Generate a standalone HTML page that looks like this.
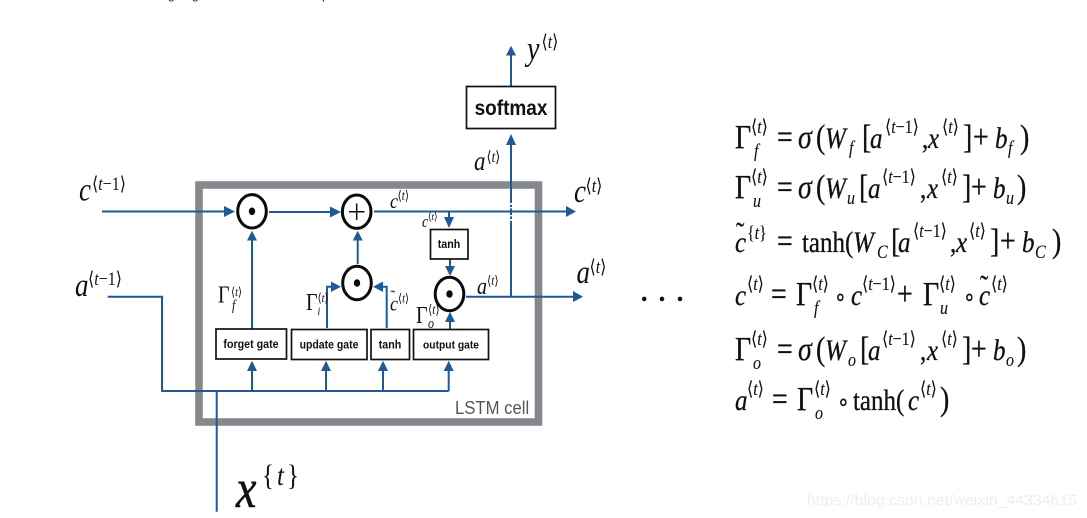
<!DOCTYPE html>
<html>
<head>
<meta charset="utf-8">
<style>
html,body{margin:0;padding:0;background:#fff;width:1087px;height:518px;overflow:hidden}
svg{display:block;filter:blur(.35px)}
text{font-family:"Liberation Serif","DejaVu Sans",serif;fill:#111;white-space:pre}
.i{font-style:italic}
.sans{font-family:"Liberation Sans",sans-serif;font-weight:bold;text-anchor:middle;font-size:10.7px;fill:#111}
.eq text{font-size:25px;stroke:#111;stroke-width:.25px}
.eq text.s{font-size:16px;stroke-width:.1px}
.eq text.b{font-size:16px;font-style:italic;stroke-width:.1px}
.eq text.k{font-size:28px}
.ln{fill:none;stroke:#1f5a96;stroke-width:2}
.hd{fill:#1f5a96}
.box{fill:#fff;stroke:#111;stroke-width:1.7}
.cir{fill:#fff;stroke:#0a0a0a;stroke-width:3}
</style>
</head>
<body>
<svg width="1087" height="518" viewBox="0 0 1087 518" xmlns="http://www.w3.org/2000/svg">
<rect width="1087" height="518" fill="#fff"/>

<text x="168" y="-1" style="font-family:'Liberation Sans',sans-serif;font-size:12px">g</text>
<text x="192" y="-1" style="font-family:'Liberation Sans',sans-serif;font-size:12px">g</text>
<text x="322" y="-1" style="font-family:'Liberation Sans',sans-serif;font-size:12px">p</text>

<!-- LSTM cell frame -->
<rect x="199" y="185" width="339.5" height="237" fill="none" stroke="#85888c" stroke-width="7.6"/>
<text transform="translate(455 414) scale(1 1.1)" style="font-family:'Liberation Sans',sans-serif;font-size:16.7px;fill:#555">LSTM cell</text>

<!-- Connectors -->
<path class="ln" d="M102 211.5H226"/>
<path class="ln" d="M269 212H332"/>
<path class="ln" d="M374 211.5H567"/>
<path class="ln" d="M449 212V218"/>
<path class="ln" d="M450 259V267"/>
<path class="ln" d="M466 296.7H575"/>
<path class="ln" d="M511 297V144"/>
<rect x="507" y="203" width="8" height="1.8" fill="#fff"/>
<rect x="507" y="207" width="8" height="1.4" fill="#fff"/>
<rect x="507" y="215" width="8" height="1.4" fill="#fff"/>
<rect x="507" y="219" width="8" height="1.8" fill="#fff"/>
<path class="ln" d="M511 86V54"/>
<path class="ln" d="M357.7 264V239"/>
<path class="ln" d="M327 328V286.7H332"/>
<path class="ln" d="M386.7 328V286.7H382"/>
<path class="ln" d="M450 329V321"/>
<path class="ln" d="M252 329V239"/>
<path class="ln" d="M107.7 296.7H162V391H448.7"/>
<path class="ln" d="M216.7 391V511.7"/>
<path class="ln" d="M252 391V369"/>
<path class="ln" d="M326 391V369"/>
<path class="ln" d="M383 391V369"/>
<path class="ln" d="M448.7 391V369"/>

<!-- Arrowheads -->
<polygon class="hd" points="235,211.5 224,206 224,217"/>
<polygon class="hd" points="341,212 330,206.5 330,217.5"/>
<polygon class="hd" points="576,211.5 566,206 566,217"/>
<polygon class="hd" points="449,228 444,217 454,217"/>
<polygon class="hd" points="450,276 445,266 455,266"/>
<polygon class="hd" points="583,296.7 573,291 573,302"/>
<polygon class="hd" points="511,134 506,145 516,145"/>
<polygon class="hd" points="511,45.7 506,55.5 516,55.5"/>
<polygon class="hd" points="357.7,230.7 352.7,240.5 362.7,240.5"/>
<polygon class="hd" points="341,286.7 331,281.5 331,292"/>
<polygon class="hd" points="373,286.7 383,281.5 383,292"/>
<polygon class="hd" points="450,311.7 445,322 455,322"/>
<polygon class="hd" points="252,230.7 247,240.5 257,240.5"/>
<polygon class="hd" points="252,360.7 247,371 257,371"/>
<polygon class="hd" points="326,360.7 321,371 331,371"/>
<polygon class="hd" points="383,360.7 378,371 388,371"/>
<polygon class="hd" points="448.7,360.7 443.7,371 453.7,371"/>

<!-- Operator nodes -->
<ellipse class="cir" cx="252" cy="211.3" rx="14.3" ry="16.7"/>
<ellipse cx="252" cy="211.3" rx="3.2" ry="3.8" fill="#0a0a0a"/>
<ellipse class="cir" cx="356.7" cy="211.7" rx="14.3" ry="16.7"/>
<path d="M349 211.7H364.5M356.7 203.5V220" stroke="#111" stroke-width="1.5" fill="none"/>
<ellipse class="cir" cx="357" cy="283" rx="14.3" ry="16.7"/>
<ellipse cx="357" cy="283" rx="3.2" ry="3.8" fill="#0a0a0a"/>
<ellipse class="cir" cx="449.5" cy="294" rx="14.3" ry="16.7"/>
<ellipse cx="449.5" cy="294" rx="3.2" ry="3.8" fill="#0a0a0a"/>

<!-- Boxes -->
<rect class="box" x="466.5" y="86.5" width="89" height="42" stroke-width="2"/>
<text class="sans" transform="translate(511 115) scale(1 1.1)" style="font-size:19px">softmax</text>
<rect class="box" x="430.5" y="229.5" width="37.5" height="29.5"/>
<text class="sans" transform="translate(449 248) scale(1 1.1)">tanh</text>
<rect class="box" x="216" y="329" width="70.5" height="30"/>
<text class="sans" transform="translate(251 348) scale(1 1.1)">forget gate</text>
<rect class="box" x="291.5" y="329.5" width="75.5" height="30"/>
<text class="sans" transform="translate(329 348.5) scale(1 1.1)" style="font-size:10.5px">update gate</text>
<rect class="box" x="371" y="329.5" width="38.5" height="30"/>
<text class="sans" transform="translate(390 348.5) scale(1 1.1)">tanh</text>
<rect class="box" x="413.5" y="329.5" width="75" height="30"/>
<text class="sans" transform="translate(451 348.5) scale(1 1.1)" style="font-size:10.3px">output gate</text>

<!-- Diagram labels -->
<text class="i" transform="translate(79 200.7) scale(1 1.2)" style="font-size:27px">c</text>
<text transform="translate(92 190) scale(1 1.2)" style="font-size:16px">⟨<tspan class="i">t</tspan>−1⟩</text>
<text class="i" transform="translate(75 296) scale(1 1.2)" style="font-size:27px">a</text>
<text transform="translate(88 285) scale(1 1.2)" style="font-size:16px">⟨<tspan class="i">t</tspan>−1⟩</text>

<text transform="translate(218 302.7) scale(1 1.2)" style="font-size:20px">Γ</text>
<text transform="translate(231 296) scale(1 1.2)" style="font-size:10.5px">⟨<tspan class="i">t</tspan>⟩</text>
<text class="i" transform="translate(232 310) scale(1 1.2)" style="font-size:12px">f</text>

<text transform="translate(306 310) scale(1 1.2)" style="font-size:20px">Γ</text>
<text transform="translate(317.500 302) scale(1 1.2)" style="font-size:10.5px">⟨<tspan class="i">t</tspan>⟩</text>
<text class="i" transform="translate(317.500 315) scale(1 1.2)" style="font-size:10px">i</text>

<text class="i" transform="translate(390 310.7) scale(1 1.2)" style="font-size:18px">c</text>
<text transform="translate(390.500 302) scale(1 1.2)" style="font-size:14px">˜</text>
<text transform="translate(398 302.700) scale(1 1.2)" style="font-size:10.5px">⟨<tspan class="i">t</tspan>⟩</text>

<text transform="translate(416 323) scale(1 1.2)" style="font-size:20px">Γ</text>
<text transform="translate(428 314) scale(1 1.2)" style="font-size:11px">⟨<tspan class="i">t</tspan>⟩</text>
<text class="i" transform="translate(428 328) scale(1 1.2)" style="font-size:12px">o</text>

<text class="i" transform="translate(390 208) scale(1 1.2)" style="font-size:18px">c</text>
<text transform="translate(397.500 200) scale(1 1.2)" style="font-size:11px">⟨<tspan class="i">t</tspan>⟩</text>
<text class="i" transform="translate(422 227) scale(1 1.2)" style="font-size:14px">c</text>
<text transform="translate(428 220) scale(1 1.2)" style="font-size:9px">⟨<tspan class="i">t</tspan>⟩</text>

<text class="i" transform="translate(477 294) scale(1 1.2)" style="font-size:20px">a</text>
<text transform="translate(487 285) scale(1 1.2)" style="font-size:11px">⟨<tspan class="i">t</tspan>⟩</text>

<text class="i" transform="translate(574 202) scale(1 1.2)" style="font-size:27px">c</text>
<text transform="translate(585.500 192) scale(1 1.2)" style="font-size:16px">⟨<tspan class="i">t</tspan>⟩</text>
<text class="i" transform="translate(576.500 283) scale(1 1.2)" style="font-size:27px">a</text>
<text transform="translate(589.500 273) scale(1 1.2)" style="font-size:16px">⟨<tspan class="i">t</tspan>⟩</text>

<text class="i" transform="translate(527 60) scale(1 1.2)" style="font-size:28px">y</text>
<text transform="translate(541.500 48) scale(1 1.2)" style="font-size:16px">⟨<tspan class="i">t</tspan>⟩</text>
<text class="i" transform="translate(474 170) scale(1 1.2)" style="font-size:23px">a</text>
<text transform="translate(486.500 162) scale(1 1.2)" style="font-size:13px">⟨<tspan class="i">t</tspan>⟩</text>

<text class="i" transform="translate(236 507) scale(1 1.2)" style="font-size:46px;stroke:#111;stroke-width:.5px">x</text>
<text transform="translate(262 485) scale(1 1.2)" style="font-size:25px">{<tspan class="i" dx="3">t</tspan><tspan dx="3">}</tspan></text>

<!-- Ellipsis -->
<text x="640.800" y="301" style="font-size:28px;font-weight:bold">.</text>
<text x="658.500" y="301" style="font-size:28px;font-weight:bold">.</text>
<text x="676.500" y="301" style="font-size:28px;font-weight:bold">.</text>

<!-- Equation 1 -->
<g class="eq" transform="translate(0 148) scale(1 1.2)">
<text class="k" x="735" y="0">Γ</text><text class="s" x="751" y="-12.500">⟨<tspan class="i">t</tspan>⟩</text><text class="b" x="754" y="7.500">f</text>
<text class="k" x="777" y="0">=</text><text class="i k" x="798" y="0">σ</text><text class="k" x="816" y="0">(</text><text class="i" x="825" y="0">W</text><text class="b" x="849" y="5">f</text>
<text class="k" x="862" y="0">[</text><text class="i" x="870" y="0">a</text><text class="s" x="885" y="-12.500">⟨<tspan class="i">t</tspan>−1⟩</text>
<text x="922" y="0">,</text><text class="i" x="928" y="0">x</text><text class="s" x="942" y="-12.500">⟨<tspan class="i">t</tspan>⟩</text>
<text class="k" x="963" y="0">]</text><text class="k" x="973" y="0">+</text><text class="i" x="995" y="0">b</text><text class="b" x="1008" y="5">f</text><text class="k" x="1020" y="0">)</text>
</g>
<!-- Equation 2 -->
<g class="eq" transform="translate(0 198) scale(1 1.2)">
<text class="k" x="735" y="0">Γ</text><text class="s" x="751" y="-12.500">⟨<tspan class="i">t</tspan>⟩</text><text class="b" x="753" y="7.500">u</text>
<text class="k" x="777" y="0">=</text><text class="i k" x="798" y="0">σ</text><text class="k" x="816" y="0">(</text><text class="i" x="825" y="0">W</text><text class="b" x="847" y="5">u</text>
<text class="k" x="859" y="0">[</text><text class="i" x="868" y="0">a</text><text class="s" x="882" y="-12.500">⟨<tspan class="i">t</tspan>−1⟩</text>
<text x="920" y="0">,</text><text class="i" x="927" y="0">x</text><text class="s" x="941" y="-12.500">⟨<tspan class="i">t</tspan>⟩</text>
<text class="k" x="962" y="0">]</text><text class="k" x="971" y="0">+</text><text class="i" x="993" y="0">b</text><text class="b" x="1006" y="5">u</text><text class="k" x="1017" y="0">)</text>
</g>
<!-- Equation 3 -->
<g class="eq" transform="translate(0 252) scale(1 1.2)">
<text class="i" x="735" y="0">c</text><text x="736" y="-8">˜</text><text class="s" x="747" y="-11">{<tspan class="i">t</tspan>}</text>
<text class="k" x="777" y="0">=</text><text x="802" y="0">tanh(</text><text class="i" x="853" y="0">W</text><text class="b" x="877" y="5">C</text>
<text class="k" x="891" y="0">[</text><text class="i" x="898" y="0">a</text><text class="s" x="913" y="-12.500">⟨<tspan class="i">t</tspan>−1⟩</text>
<text x="950" y="0">,</text><text class="i" x="956" y="0">x</text><text class="s" x="969" y="-12.500">⟨<tspan class="i">t</tspan>⟩</text>
<text class="k" x="990" y="0">]</text><text class="k" x="1000" y="0">+</text><text class="i" x="1022" y="0">b</text><text class="b" x="1035" y="5">C</text><text class="k" x="1052" y="0">)</text>
</g>
<!-- Equation 4 -->
<g class="eq" transform="translate(0 305) scale(1 1.2)">
<text class="i" x="735" y="0">c</text><text class="s" x="747" y="-12.500">⟨<tspan class="i">t</tspan>⟩</text>
<text class="k" x="771" y="0">=</text><text class="k" x="796" y="0">Γ</text><text class="s" x="812" y="-12.500">⟨<tspan class="i">t</tspan>⟩</text><text class="b" x="814" y="7.500">f</text>
<text x="834" y="0" style="font-size:20px">∘</text><text class="i" x="851" y="0">c</text><text class="s" x="862" y="-12.500">⟨<tspan class="i">t</tspan>−1⟩</text>
<text class="k" x="897" y="0">+</text><text class="k" x="923" y="0">Γ</text><text class="s" x="939" y="-12.500">⟨<tspan class="i">t</tspan>⟩</text><text class="b" x="940" y="7.500">u</text>
<text x="963" y="0" style="font-size:20px">∘</text><text class="i" x="979" y="0">c</text><text x="980" y="-8">˜</text><text class="s" x="991" y="-12.500">⟨<tspan class="i">t</tspan>⟩</text>
</g>
<!-- Equation 5 -->
<g class="eq" transform="translate(0 360) scale(1 1.2)">
<text class="k" x="735" y="0">Γ</text><text class="s" x="751" y="-12.500">⟨<tspan class="i">t</tspan>⟩</text><text class="b" x="753" y="7.500">o</text>
<text class="k" x="777" y="0">=</text><text class="i k" x="798" y="0">σ</text><text class="k" x="816" y="0">(</text><text class="i" x="825" y="0">W</text><text class="b" x="848" y="5">o</text>
<text class="k" x="860" y="0">[</text><text class="i" x="868" y="0">a</text><text class="s" x="882" y="-12.500">⟨<tspan class="i">t</tspan>−1⟩</text>
<text x="920" y="0">,</text><text class="i" x="927" y="0">x</text><text class="s" x="941" y="-12.500">⟨<tspan class="i">t</tspan>⟩</text>
<text class="k" x="962" y="0">]</text><text class="k" x="971" y="0">+</text><text class="i" x="993" y="0">b</text><text class="b" x="1006" y="5">o</text><text class="k" x="1017" y="0">)</text>
</g>
<!-- Equation 6 -->
<g class="eq" transform="translate(0 410) scale(1 1.2)">
<text class="i" x="735" y="0">a</text><text class="s" x="747" y="-12.500">⟨<tspan class="i">t</tspan>⟩</text>
<text class="k" x="772" y="0">=</text><text class="k" x="797" y="0">Γ</text><text class="s" x="814" y="-12.500">⟨<tspan class="i">t</tspan>⟩</text><text class="b" x="815" y="7.500">o</text>
<text x="837" y="0" style="font-size:20px">∘</text><text x="853" y="0">tanh(</text><text class="i" x="908" y="0">c</text><text class="s" x="920" y="-12.500">⟨<tspan class="i">t</tspan>⟩</text><text class="k" x="940" y="0">)</text>
</g>

<!-- Watermark -->
<text x="807" y="505" textLength="270" lengthAdjust="spacingAndGlyphs" style="font-family:'Liberation Sans',sans-serif;font-size:15px;fill:#eeeeee">https://blog.csdn.net/weixin_44334615</text>
</svg>
</body>
</html>
